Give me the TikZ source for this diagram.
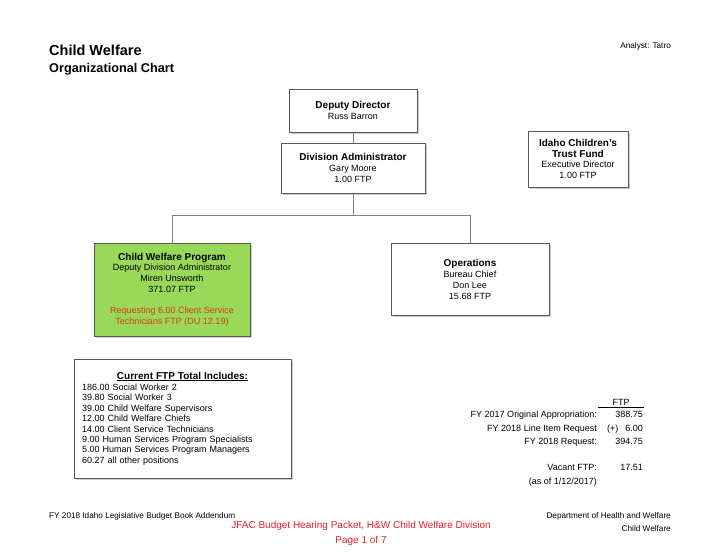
\documentclass[tikz,border=0pt]{standalone}
\usepackage{fontspec}
\setmainfont{Liberation Sans}
\usetikzlibrary{positioning,shadows}
\definecolor{cwgreen}{RGB}{152,217,88}
\definecolor{reqred}{RGB}{222,56,22}
\definecolor{pagered}{RGB}{230,30,40}
\newcommand{\boxhead}[1]{{\fontsize{10}{11}\selectfont\bfseries #1}}

\begin{document}
\begin{tikzpicture}[x=1pt, y=-1pt,
        orgbox/.style={rectangle, draw=black!65, line width=1pt, fill=white, align=center, inner sep=0pt, font=\fontsize{9}{10.8}\selectfont, drop shadow={shadow xshift=1.8pt, shadow yshift=-1.8pt, fill=black!40}},
        link/.style={draw=black!50, line width=1pt},
        txt/.style={inner sep=0pt, font=\fontsize{9}{11}\selectfont},
        lbl/.style={txt, anchor=base east},
        small/.style={inner sep=0pt, font=\fontsize{8.2}{9}\selectfont}]
        \useasboundingbox (0,0) rectangle (720,557);

        \node[inner sep=0pt, anchor=base west, font=\fontsize{14.5}{16}\selectfont\bfseries] (10) at (49,55) {Child Welfare};
        \node[inner sep=0pt, anchor=base west, font=\fontsize{12.7}{15}\selectfont\bfseries] (11) at (49,72.5) {Organizational Chart};
        \node[small, anchor=base east] (12) at (671,48) {Analyst: Tatro};

        \node[orgbox, minimum width=128pt, minimum height=43pt] (1) at (353,110.5) {\boxhead{Deputy Director}\\Russ Barron};
        \node[orgbox, minimum width=144pt, minimum height=50pt] (2) [below=10pt of 1] {\boxhead{Division Administrator}\\Gary Moore\\1.00 FTP};
        \node[orgbox, minimum width=100pt, minimum height=56pt] (3) at (578,159) {\boxhead{Idaho Children's}\\\boxhead{Trust Fund}\\Executive Director\\1.00 FTP};
        \node[orgbox, fill=cwgreen, minimum width=156pt, minimum height=93pt] (4) at (172,289.5) {\boxhead{Child Welfare Program}\\Deputy Division Administrator\\Miren Unsworth\\371.07 FTP\\[10pt]\textcolor{reqred}{Requesting 6.00 Client Service}\\\textcolor{reqred}{Technicians FTP (DU 12.19)}};
        \node[orgbox, minimum width=158pt, minimum height=72pt] (5) at (470,279.5) {\boxhead{Operations}\\Bureau Chief\\Don Lee\\15.68 FTP};
        \node[orgbox, align=left, text width=201pt, inner xsep=8pt, minimum height=119pt, font=\fontsize{9}{10.4}\selectfont] (6) at (182.5,418.5) {\hfill\underline{\boxhead{Current FTP Total Includes:}}\hfill\mbox{}\\[1pt]186.00 Social Worker 2\\39.80 Social Worker 3\\39.00 Child Welfare Supervisors\\12.00 Child Welfare Chiefs\\14.00 Client Service Technicians\\9.00 Human Services Program Specialists\\5.00 Human Services Program Managers\\60.27 all other positions};

        \coordinate (7) at ([yshift=-22pt]2.south);
        \draw[link] (1) -- (2);
        \draw[link] (2) -- (7);
        \draw[link] (7) -| (4);
        \draw[link] (7) -| (5);

        \node[txt, anchor=base, text width=46pt, align=center, inner ysep=2pt] (20) at (621,405) {FTP};
        \draw[line width=0.8pt] (20.south west) -- (20.south east);
        \node[lbl] (21) at (597,417.5) {FY 2017 Original Appropriation:};
        \node[lbl] (22) at (643,417.5) {388.75};
        \node[lbl] (23) at (597,431.5) {FY 2018 Line Item Request};
        \node[txt, anchor=base west] (24) at (607,431.5) {(+)};
        \node[lbl] (25) at (643,431.5) {6.00};
        \node[lbl] (26) at (597,444.5) {FY 2018 Request:};
        \node[lbl] (27) at (643,444.5) {394.75};
        \node[lbl] (28) at (597,470.5) {Vacant FTP:};
        \node[lbl] (29) at (643,470.5) {17.51};
        \node[lbl] (30) at (597,484.5) {(as of 1/12/2017)};

        \node[small, anchor=base west] (13) at (49,518) {FY 2018 Idaho Legislative Budget Book Addendum};
        \node[small, anchor=base east] (14) at (671,518) {Department of Health and Welfare};
        \node[small, anchor=base east] (15) at (671,531) {Child Welfare};
        \node[inner sep=0pt, anchor=base, text=pagered, font=\fontsize{10}{12}\selectfont] (16) at (361,528) {JFAC Budget Hearing Packet, H\&W Child Welfare Division};
        \node[inner sep=0pt, anchor=base, text=pagered, font=\fontsize{10}{12}\selectfont] (17) at (361,543) {Page 1 of 7};

        \end{tikzpicture}
\end{document}
